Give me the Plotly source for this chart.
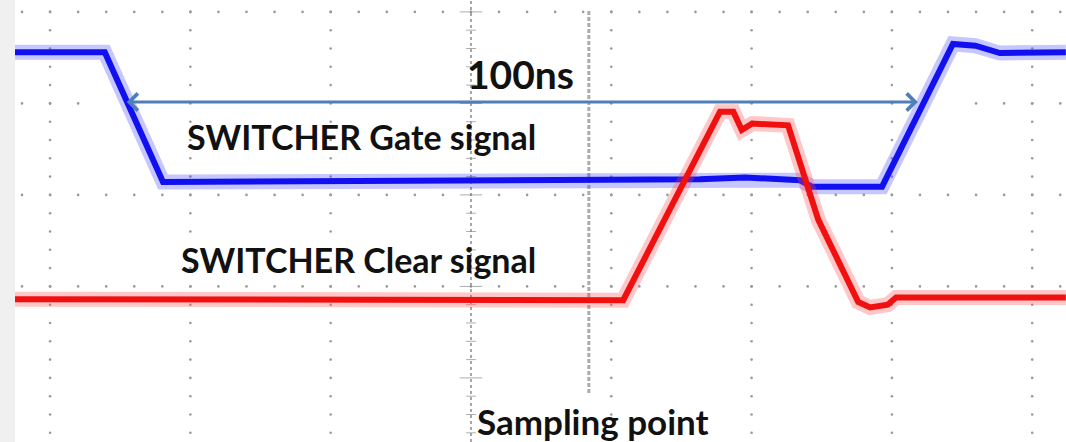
import numpy as np
import plotly.graph_objects as go

# ---- data (time in ns, amplitude in scope divisions) ----
gate_t = [-65.0, -52.2, -43.9, 32.6, 39.1, 46.9, 48.6, 58.6, 68.7, 71.9, 75.4, 84.8]
gate_v = [2.56, 2.56, 1.14, 1.17, 1.19, 1.16, 1.09, 1.09, 2.65, 2.63, 2.55, 2.56]

clear_t = [-65.0, 21.7, 35.5, 37.4, 38.6, 40.1, 45.2, 49.5, 55.2, 56.9, 59.4, 60.6, 84.8]
clear_v = [-0.14, -0.15, 1.91, 1.91, 1.71, 1.78, 1.76, 0.73, -0.17, -0.23, -0.20, -0.12, -0.12]

sampling_t = 16.8
arrow_start, arrow_end, arrow_v = -49.3, 63.7, 2.015

grid_cols = [-60, -40, -20, 20, 40, 60, 80]
grid_rows = [0, 1, 2, 3]

X_RANGE = [-65.0, 84.82]
Y_RANGE = [-1.7005, 3.130]

fig = go.Figure()

# ---- graticule dots ----
gx, gy = [], []
minor_v = np.round(np.arange(-1.6, 3.01, 0.2), 3)
for c in grid_cols:
    for v in minor_v:
        gx.append(c); gy.append(v)
minor_t = np.arange(-64, 85, 4)
for r in grid_rows:
    for t in minor_t:
        if r == 2 and -54.3 < t < 69:
            continue
        gx.append(t); gy.append(r)
fig.add_trace(go.Scatter(x=gx, y=gy, mode="markers",
                         marker=dict(size=2.6, color="#9a9a9a"),
                         hoverinfo="skip", showlegend=False))

# centre axis tick marks
ct_v = [v for v in minor_v]
ct_size = [16 if abs(v - round(v)) < 1e-6 else 7 for v in ct_v]
fig.add_trace(go.Scatter(x=[0] * len(ct_v), y=ct_v, mode="markers",
                         marker=dict(symbol="line-ew-open", size=ct_size, color="#8a8a8a",
                                     line=dict(color="#8a8a8a", width=1)),
                         hoverinfo="skip", showlegend=False))

# ---- traces: soft band + core ----
for t, v, band, core in [
    (gate_t, gate_v, "rgba(70,70,255,0.30)", "#1010f0"),
    (clear_t, clear_v, "rgba(255,70,70,0.30)", "#f01010"),
]:
    fig.add_trace(go.Scatter(x=t, y=v, mode="lines",
                             line=dict(color=band, width=15),
                             hoverinfo="skip", showlegend=False))
    fig.add_trace(go.Scatter(x=t, y=v, mode="lines",
                             line=dict(color=core, width=6),
                             hoverinfo="skip", showlegend=False))

shapes = [
    dict(type="line", xref="x", yref="y", x0=0, x1=0, y0=Y_RANGE[0], y1=Y_RANGE[1],
         line=dict(color="#8a8a8a", width=1.5, dash="dot"), layer="below"),
    dict(type="line", xref="x", yref="y", x0=sampling_t, x1=sampling_t, y0=-1.165, y1=3.02,
         line=dict(color="#ababab", width=3, dash="4px,2px"), layer="below"),
]

font = "Lato, 'Open Sans', sans-serif"
annotations = [
    dict(x=arrow_end, y=arrow_v, ax=arrow_start, ay=arrow_v, xref="x", yref="y",
         axref="x", ayref="y", text="", showarrow=True, arrowside="end+start",
         arrowhead=4, startarrowhead=4, arrowwidth=3, arrowsize=1.1, startarrowsize=1.1,
         arrowcolor="#4f7fb8", standoff=0, startstandoff=0),
    dict(x=7.06, y=2.32, xref="x", yref="y", text="<b>100ns</b>", showarrow=False,
         font=dict(family=font, size=39, color="#111111"), xanchor="center", yanchor="middle"),
    dict(x=-15.61, y=1.635, xref="x", yref="y", text="<b>SWITCHER Gate signal</b>", showarrow=False,
         font=dict(family=font, size=34, color="#111111"), xanchor="center", yanchor="middle"),
    dict(x=-15.97, y=0.29, xref="x", yref="y", text="<b>SWITCHER Clear signal</b>", showarrow=False,
         font=dict(family=font, size=34, color="#111111"), xanchor="center", yanchor="middle"),
    dict(x=17.39, y=-1.47, xref="x", yref="y", text="<b>Sampling point</b>", showarrow=False,
         font=dict(family=font, size=35, color="#111111"), xanchor="center", yanchor="middle"),
]

fig.update_layout(
    width=1066, height=442,
    margin=dict(l=15, r=0, t=0, b=0),
    paper_bgcolor="#f0f0f0", plot_bgcolor="white",
    shapes=shapes, annotations=annotations,
    xaxis=dict(range=X_RANGE, visible=False, fixedrange=True),
    yaxis=dict(range=Y_RANGE, visible=False, fixedrange=True),
    showlegend=False,
)

fig.write_html("out.html", config={"displayModeBar": False},
               post_script="document.body.style.margin='0';document.body.style.overflow='hidden';")
